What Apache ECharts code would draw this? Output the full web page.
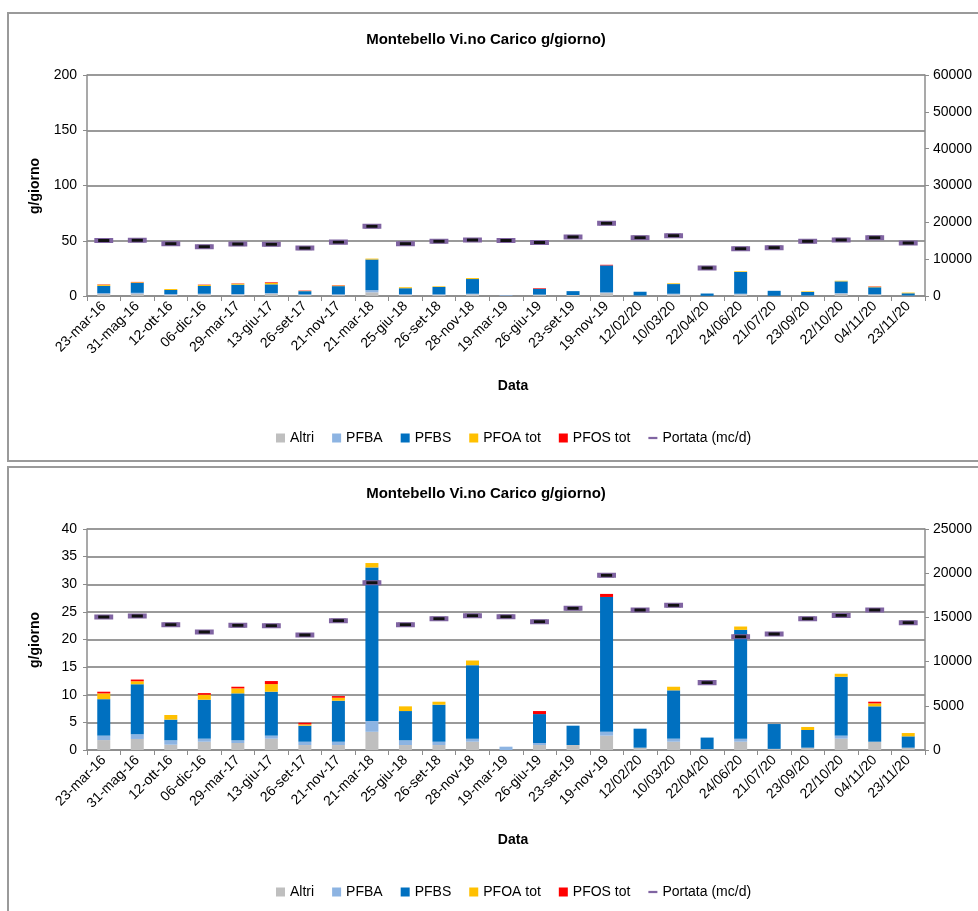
<!DOCTYPE html>
<html>
<head>
<meta charset="utf-8">
<script src="https://cdn.jsdelivr.net/npm/echarts@6/dist/echarts.min.js"></script>
<style>
html,body{margin:0;padding:0;background:#fff;width:978px;height:911px;overflow:hidden;}
.panel{position:absolute;left:7px;width:990px;border:2px solid #9a9a9a;background:#fff;}
#p1{top:12px;height:446px;}
#p2{top:466px;height:460px;}
.c{position:absolute;left:0;top:0;width:990px;height:446px;}
</style>
</head>
<body>
<div class="panel" id="p1"><div class="c" id="c1"></div></div>
<div class="panel" id="p2"><div class="c" id="c2"></div></div>
<script>
const categories = ['23-mar-16','31-mag-16','12-ott-16','06-dic-16','29-mar-17','13-giu-17','26-set-17','21-nov-17','21-mar-18','25-giu-18','26-set-18','28-nov-18','19-mar-19','26-giu-19','23-set-19','19-nov-19','12/02/20','10/03/20','22/04/20','24/06/20','21/07/20','23/09/20','22/10/20','04/11/20','23/11/20'];
const altri = [1.8,2.0,0.96,1.5,1.27,2.05,0.9,0.9,3.3,0.9,0.9,1.5,0,0.9,0.9,2.6,0.42,1.5,0.15,1.5,0.2,0.42,2.05,1.5,0.42];
const pfba = [0.8,0.85,0.8,0.55,0.48,0.55,0.6,0.6,1.94,0.85,0.6,0.55,0.6,0.37,0,0.7,0,0.55,0,0.55,0,0,0.55,0,0];
const pfbs = [6.6,9.05,3.74,7.05,8.5,7.95,2.9,7.42,27.8,5.3,6.7,13.3,0,5.23,3.5,24.4,3.44,8.75,2.1,19.7,4.5,3.2,10.65,6.4,2.05];
const pfoa = [1.05,0.55,0.84,0.9,0.9,1.38,0.24,0.54,0.8,0.85,0.54,0.85,0,0,0,0,0,0.65,0,0.6,0,0.55,0.55,0.54,0.6];
const pfos = [0.3,0.3,0,0.3,0.3,0.55,0.3,0.3,0,0,0,0,0,0.55,0,0.55,0,0,0,0,0,0,0,0.3,0];
const portata = [15050,15160,14170,13350,14100,14050,13010,14630,18930,14170,14850,15190,15080,14510,16030,19760,15840,16370,7620,12820,13120,14850,15230,15840,14400];

const titleText = 'Montebello Vi.no Carico g/giorno)';
const FONT = 'Liberation Sans';

function makeOption(leftMax, leftInt, rightMax, rightInt) {
  const barSeries = (name, data, color) => ({
    name, type: 'bar', stack: 'tot', data, barWidth: 13,
    itemStyle: { color }, yAxisIndex: 0, z: 2
  });
  return {
    animation: false,
    textStyle: { fontFamily: FONT },
    grid: { left: 78, top: 61, width: 838, height: 221, containLabel: false },
    graphic: [
      { type: 'text', x: 477, y: 26, style: { text: titleText, textAlign: 'center', textVerticalAlign: 'middle', font: 'bold 15px ' + FONT, fill: '#000' } },
      { type: 'text', x: 504, y: 372, style: { text: 'Data', textAlign: 'center', textVerticalAlign: 'middle', font: 'bold 14px ' + FONT, fill: '#000' } },
      { type: 'text', x: 26, y: 172, rotation: Math.PI / 2, style: { text: 'g/giorno', textAlign: 'center', textVerticalAlign: 'middle', font: 'bold 14px ' + FONT, fill: '#000' } }
    ],
    legend: {
      left: 262, top: 412, itemWidth: 9, itemHeight: 9, itemGap: 18,
      textStyle: { fontSize: 14, fontFamily: FONT, color: '#000' },
      data: [
        { name: 'Altri', icon: 'rect' },
        { name: 'PFBA', icon: 'rect' },
        { name: 'PFBS', icon: 'rect' },
        { name: 'PFOA tot', icon: 'rect' },
        { name: 'PFOS tot', icon: 'rect' },
        { name: 'Portata (mc/d)', icon: 'path://M0,0 L12,0 L12,3 L0,3 Z', itemStyle: { color: '#8064a2', borderWidth: 0 } }
      ]
    },
    xAxis: {
      type: 'category', data: categories,
      axisLine: { lineStyle: { color: '#8c8c8c', width: 1.5 } },
      axisTick: { show: true, length: 5, lineStyle: { color: '#8c8c8c' } },
      axisLabel: { rotate: 45, interval: 0, fontSize: 14, color: '#000', fontFamily: FONT, margin: 8 }
    },
    yAxis: [
      {
        type: 'value', min: 0, max: leftMax, interval: leftInt,
        axisLine: { show: true, lineStyle: { color: '#8c8c8c', width: 1.5 } },
        axisTick: { show: true, length: 4, lineStyle: { color: '#8c8c8c' } },
        axisLabel: { fontSize: 14, color: '#000', fontFamily: FONT, margin: 10 },
        splitLine: { lineStyle: { color: '#9a9a9a', width: 2 } }
      },
      {
        type: 'value', min: 0, max: rightMax, interval: rightInt, position: 'right',
        axisLine: { show: true, lineStyle: { color: '#8c8c8c', width: 1.5 } },
        axisTick: { show: true, length: 4, lineStyle: { color: '#8c8c8c' } },
        axisLabel: { fontSize: 14, color: '#000', fontFamily: FONT, margin: 8, formatter: v => String(v) },
        splitLine: { show: false }
      }
    ],
    series: [
      barSeries('Altri', altri, '#bfbfbf'),
      barSeries('PFBA', pfba, '#8db4e2'),
      barSeries('PFBS', pfbs, '#0070c0'),
      barSeries('PFOA tot', pfoa, '#ffc000'),
      barSeries('PFOS tot', pfos, '#ff0000'),
      {
        name: 'Portata (mc/d)', type: 'scatter', yAxisIndex: 1, data: portata,
        symbol: 'rect', symbolSize: [15, 4], z: 5,
        itemStyle: { color: '#111', borderColor: '#8064a2', borderWidth: 2, opacity: 1 }
      }
    ]
  };
}

const c1 = echarts.init(document.getElementById('c1'), null, { renderer: 'canvas' });
c1.setOption(makeOption(200, 50, 60000, 10000));
const c2 = echarts.init(document.getElementById('c2'), null, { renderer: 'canvas' });
c2.setOption(makeOption(40, 5, 25000, 5000));
</script>
</body>
</html>
